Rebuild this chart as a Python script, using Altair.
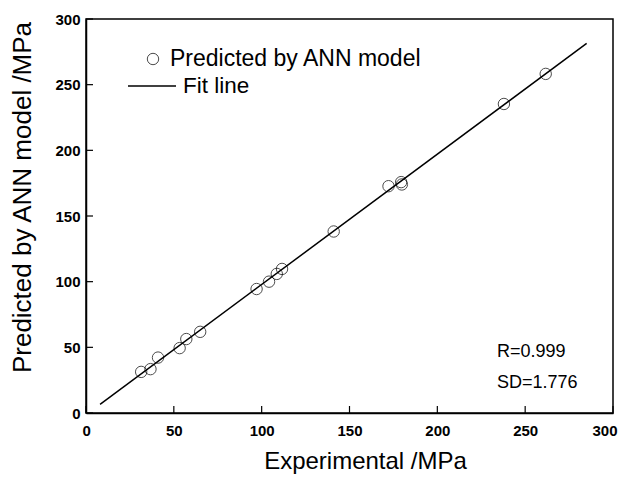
import altair as alt
import pandas as pd

# Data
exp_x = [31.4, 36.7, 41.0, 53.3, 57.1, 65.0, 97.1, 104.2, 108.6, 111.6, 141.0, 172.2, 179.4, 179.8, 237.9, 261.7]
pred_y = [31.3, 33.4, 42.2, 49.4, 56.3, 61.8, 94.4, 100.0, 105.9, 109.7, 138.2, 172.7, 175.8, 174.0, 235.3, 258.2]
fit_x = [8, 285]
fit_y = [6.6, 281.4]
tick_values = [0, 50, 100, 150, 200, 250, 300]
legend_labels = ["Predicted by ANN model", "Fit line"]
stat_labels = ["R=0.999", "SD=1.776"]

W, H = 527, 394
FONT = "Liberation Sans"

pts = pd.DataFrame({"x": exp_x, "y": pred_y})
fit = pd.DataFrame({"x": fit_x, "y": fit_y})
ticks = pd.DataFrame({"v": tick_values})

xscale = alt.Scale(domain=[0, 300], nice=False)
yscale = alt.Scale(domain=[0, 300], nice=False)

xax = alt.Axis(values=tick_values, ticks=False, grid=False, domainColor="black", domainWidth=1.5,
               labelFont=FONT, labelFontWeight="bold", labelFontSize=15, labelColor="black",
               labelFlush=True, labelFlushOffset=4, labelPadding=10, title="Experimental /MPa",
               titleFont=FONT, titleFontWeight="normal", titleFontSize=24, titleColor="black",
               titlePadding=11, titleX=279)
yax = alt.Axis(values=tick_values, ticks=False, grid=False, domainColor="black", domainWidth=1.5,
               labelFont=FONT, labelFontWeight="bold", labelFontSize=15, labelColor="black",
               labelFlush=False, labelPadding=6, title="Predicted by ANN model /MPa", titleFont=FONT,
               titleFontWeight="normal", titleFontSize=26, titleColor="black", titlePadding=19,
               titleY=178)

points = alt.Chart(pts).mark_point(shape="circle", filled=False, color="black", strokeWidth=1, size=130).encode(
    x=alt.X("x:Q", scale=xscale, axis=xax),
    y=alt.Y("y:Q", scale=yscale, axis=yax),
)

line = alt.Chart(fit).mark_line(color="black", strokeWidth=1.5).encode(
    x=alt.X("x:Q", scale=xscale),
    y=alt.Y("y:Q", scale=yscale),
)

xticks = alt.Chart(ticks).mark_rule(color="black", strokeWidth=1.2).encode(
    x=alt.X("v:Q", scale=xscale), y=alt.value(H), y2=alt.value(H - 7)
)
yticks = alt.Chart(ticks).mark_rule(color="black", strokeWidth=1.2).encode(
    y=alt.Y("v:Q", scale=yscale), x=alt.value(0), x2=alt.value(7)
)

one = pd.DataFrame({"a": [0]})
leg_pt = alt.Chart(one).mark_point(shape="circle", filled=False, color="black", strokeWidth=1, size=130).encode(
    x=alt.value(67), y=alt.value(40))
leg_txt1 = alt.Chart(one).mark_text(text=legend_labels[0], align="left", baseline="middle", font=FONT,
                                    fontSize=23, color="black").encode(x=alt.value(84), y=alt.value(40))
leg_line = alt.Chart(one).mark_rule(color="black", strokeWidth=1.5).encode(
    x=alt.value(42), x2=alt.value(90), y=alt.value(67))
leg_txt2 = alt.Chart(one).mark_text(text=legend_labels[1], align="left", baseline="middle", font=FONT,
                                    fontSize=22.5, color="black").encode(x=alt.value(97), y=alt.value(67))
r_txt = alt.Chart(one).mark_text(text=stat_labels[0], align="left", baseline="middle", font=FONT,
                                 fontSize=18, color="black").encode(x=alt.value(411), y=alt.value(333))
sd_txt = alt.Chart(one).mark_text(text=stat_labels[1], align="left", baseline="middle", font=FONT,
                                  fontSize=18, color="black").encode(x=alt.value(411), y=alt.value(364))

chart = alt.layer(line, points, xticks, yticks, leg_pt, leg_txt1, leg_line, leg_txt2, r_txt, sd_txt).properties(
    width=W, height=H,
    autosize=alt.AutoSizeParams(type="none"),
    padding={"left": 78, "top": 11, "right": 7, "bottom": 62},
    background="white",
).configure_view(stroke="black", strokeWidth=1.5)

chart.save("out.html", embed_options={"renderer": "svg", "actions": False})
